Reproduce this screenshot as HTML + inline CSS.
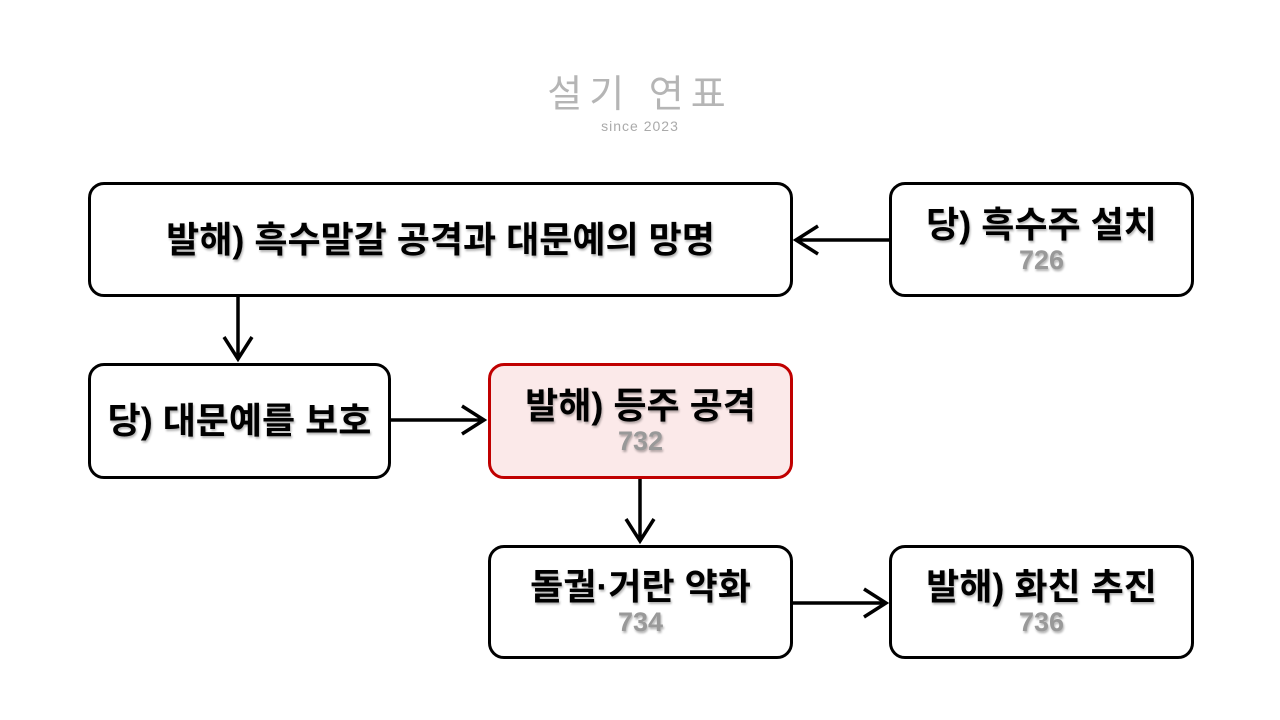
<!DOCTYPE html>
<html><head><meta charset="utf-8"><style>
body{margin:0;width:1280px;height:720px;background:#fff;position:relative;overflow:hidden;font-family:"Liberation Sans","Noto Sans CJK KR",sans-serif}
.b{position:absolute;box-sizing:border-box;border:3px solid #000;border-radius:16px;background:#fff;display:flex;flex-direction:column;align-items:center;justify-content:center;text-shadow:1px 2px 2px rgba(0,0,0,.3)}
.t{font-size:36px;font-weight:bold;color:#000;line-height:40px}
.n{font-size:27px;font-weight:bold;color:#999;line-height:30px}
.r{border-color:#c00000;background:#fbe9e9}
</style></head><body>
<div style="position:absolute;left:0;width:1280px;top:72px;text-align:center;font-size:38px;color:#b5b5b5;letter-spacing:7px;line-height:46px">설기 연표</div>
<div style="position:absolute;left:0;width:1280px;top:118px;text-align:center;font-size:14px;color:#aaa;letter-spacing:1px">since 2023</div>
<div class="b" style="left:88px;top:182px;width:705px;height:115px"><div class="t">발해) 흑수말갈 공격과 대문예의 망명</div></div>
<div class="b" style="left:889px;top:182px;width:305px;height:115px"><div class="t">당) 흑수주 설치</div><div class="n">726</div></div>
<div class="b" style="left:88px;top:363px;width:303px;height:116px"><div class="t">당) 대문예를 보호</div></div>
<div class="b r" style="left:488px;top:363px;width:305px;height:116px"><div class="t">발해) 등주 공격</div><div class="n">732</div></div>
<div class="b" style="left:488px;top:545px;width:305px;height:114px"><div class="t">돌궐·거란 약화</div><div class="n">734</div></div>
<div class="b" style="left:889px;top:545px;width:305px;height:114px"><div class="t">발해) 화친 추진</div><div class="n">736</div></div>
<svg width="1280" height="720" style="position:absolute;left:0;top:0" fill="none" stroke="#000" stroke-width="3.5">
<path d="M889 240H796M818 226L796 240L818 254"/>
<path d="M238 297V359M224 337L238 359L252 337"/>
<path d="M391 420H484M462 406L484 420L462 434"/>
<path d="M640 479V541M626 519L640 541L654 519"/>
<path d="M793 603H886M864 589L886 603L864 617"/>
</svg>
</body></html>
